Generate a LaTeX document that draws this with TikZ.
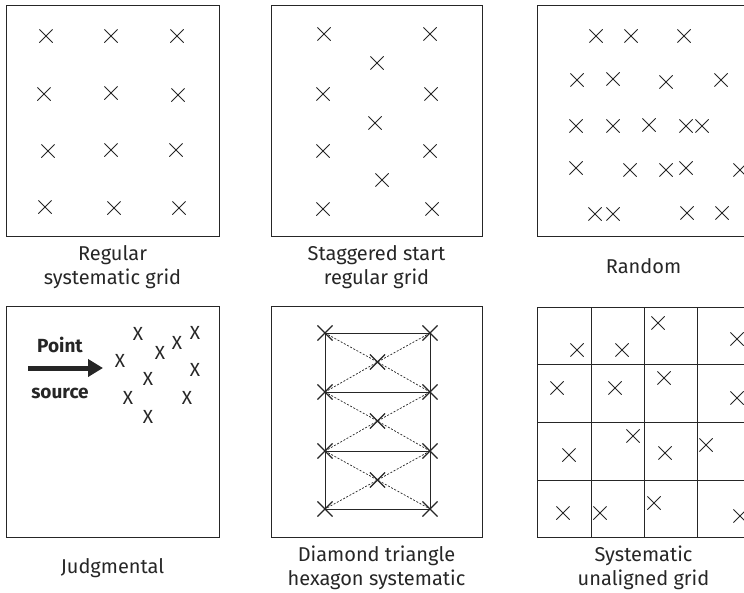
\documentclass[tikz,border=0pt]{standalone}
\usepackage{fontspec}
\setmainfont{Fira Sans}
\usetikzlibrary{shapes.misc,arrows.meta}
\definecolor{ink}{HTML}{262626}
\tikzset{
  panel/.style={draw=ink, line width=0.9pt, minimum width=#1, inner sep=0pt, anchor=north west},
  mk/.style={draw=ink, cross out, line width=0.75pt, minimum size=12.5pt, inner sep=0pt},
  mkd/.style={draw=ink, cross out, line width=1.1pt, minimum size=14pt, inner sep=0pt},
  lbl/.style={font=\fontsize{20}{24}\selectfont, text=ink, align=center, anchor=base, inner sep=0pt},
  bigx/.style={font=\fontsize{19}{19}\selectfont, text=ink, inner sep=0pt},
  bold/.style={font=\fontsize{19}{19}\selectfont\bfseries, text=ink, anchor=base, inner sep=0pt},
  solidln/.style={draw=ink, line width=0.9pt},
  dashln/.style={draw=ink, line width=0.7pt, dash pattern=on 2pt off 1.6pt},
}
\begin{document}
\begin{tikzpicture}[x=1pt,y=-1pt]
\useasboundingbox (0,0) rectangle (744,592);
\clip (0,0) rectangle (744,592);
% panels
\node[panel=213pt, minimum height=231pt] (p1) at (6,5) {};
\node[panel=211pt, minimum height=231pt] (p2) at (271,5) {};
\node[panel=213pt, minimum height=231pt] (p3) at (537,5) {};
\node[panel=213pt, minimum height=231pt] (p4) at (6,306) {};
\node[panel=211pt, minimum height=231pt] (p5) at (271,306) {};
\node[panel=213pt, minimum height=230pt] (p6) at (537,307) {};
% labels (base = last line)
\node[lbl] (l1) at (112.5,284) {Regular\\systematic grid};
\node[lbl] (l2) at (376.5,284) {Staggered start\\regular grid};
\node[lbl] (l3) at (643.5,273) {Random};
\node[lbl] (l4) at (112.5,573) {Judgmental};
\node[lbl] (l5) at (376.5,585) {Diamond triangle\\hexagon systematic};
\node[lbl] (l6) at (643.5,585) {Systematic\\unaligned grid};
% panel 1
\foreach \x/\y [count=\i] in {46/36,111/36,177/36,44/94,111/93,178/95,48/151,111/150,176/150,45/207,114/208,179/208}
  \node[mk] (a\i) at (\x,\y) {};
% panel 2
\foreach \x/\y [count=\i] in {324/34,323/94,323/151,323/209,430/34,431/94,430/151,432/209,377/63,375/123,382/180}
  \node[mk] (b\i) at (\x,\y) {};
% panel 3
\foreach \x/\y [count=\i] in {596/36,631/36,684/36,577/80,613/79,666/82,721/80,576/126,613/126,649/125,686/126,702/126,576/168,630/170,666/170,686/168,740/170,595/214,613/214,687/213,722/213}
  \node[mk] (c\i) at (\x,\y) {};
% panel 4
\node[bold] (pt) at (60,352) {Point};
\node[bold] (src) at (60,398) {source};
\coordinate (ar0) at (28,368);
\coordinate (ar1) at (103,368);
\draw[ink, line width=5pt, -{Triangle[length=15pt,width=17pt]}] (ar0) -- (ar1);
\foreach \x/\y [count=\i] in {138/334,195/333,177/343,160/353,120/361,195/370,148/379,128/398,187/398,148/417}
  \node[bigx] (d\i) at (\x,\y) {X};
% panel 5
\foreach \r/\y in {1/333,2/392,3/451,4/509}{
  \node[mkd] (eL\r) at (325,\y) {};
  \node[mkd] (eR\r) at (430,\y) {};
}
\foreach \r/\y in {1/362,2/421,3/480}
  \node[mkd] (eC\r) at (377.5,\y) {};
\draw[solidln] (eL1.center) -- (eL4.center);
\draw[solidln] (eR1.center) -- (eR4.center);
\foreach \r in {1,2,3,4}
  \draw[solidln] (eL\r.center) -- (eR\r.center);
\foreach \r/\s in {1/2,2/3,3/4}{
  \draw[dashln] (eL\r.center) -- (eC\r.center) -- (eR\s.center);
  \draw[dashln] (eR\r.center) -- (eC\r.center) -- (eL\s.center);
}
% panel 6
\foreach \x in {591,644,697}
  \draw[solidln] (\x,307) -- (\x,537);
\foreach \y in {364,422,480}
  \draw[solidln] (537,\y) -- (750,\y);
\foreach \x/\y [count=\i] in {577/350,622/350,658/323,737/339,557/388,615/388,664/378,737/398,569/455,633/436,665/453,706/445,563/513,600/513,654/503,740/516}
  \node[mk] (f\i) at (\x,\y) {};
\end{tikzpicture}
\end{document}
